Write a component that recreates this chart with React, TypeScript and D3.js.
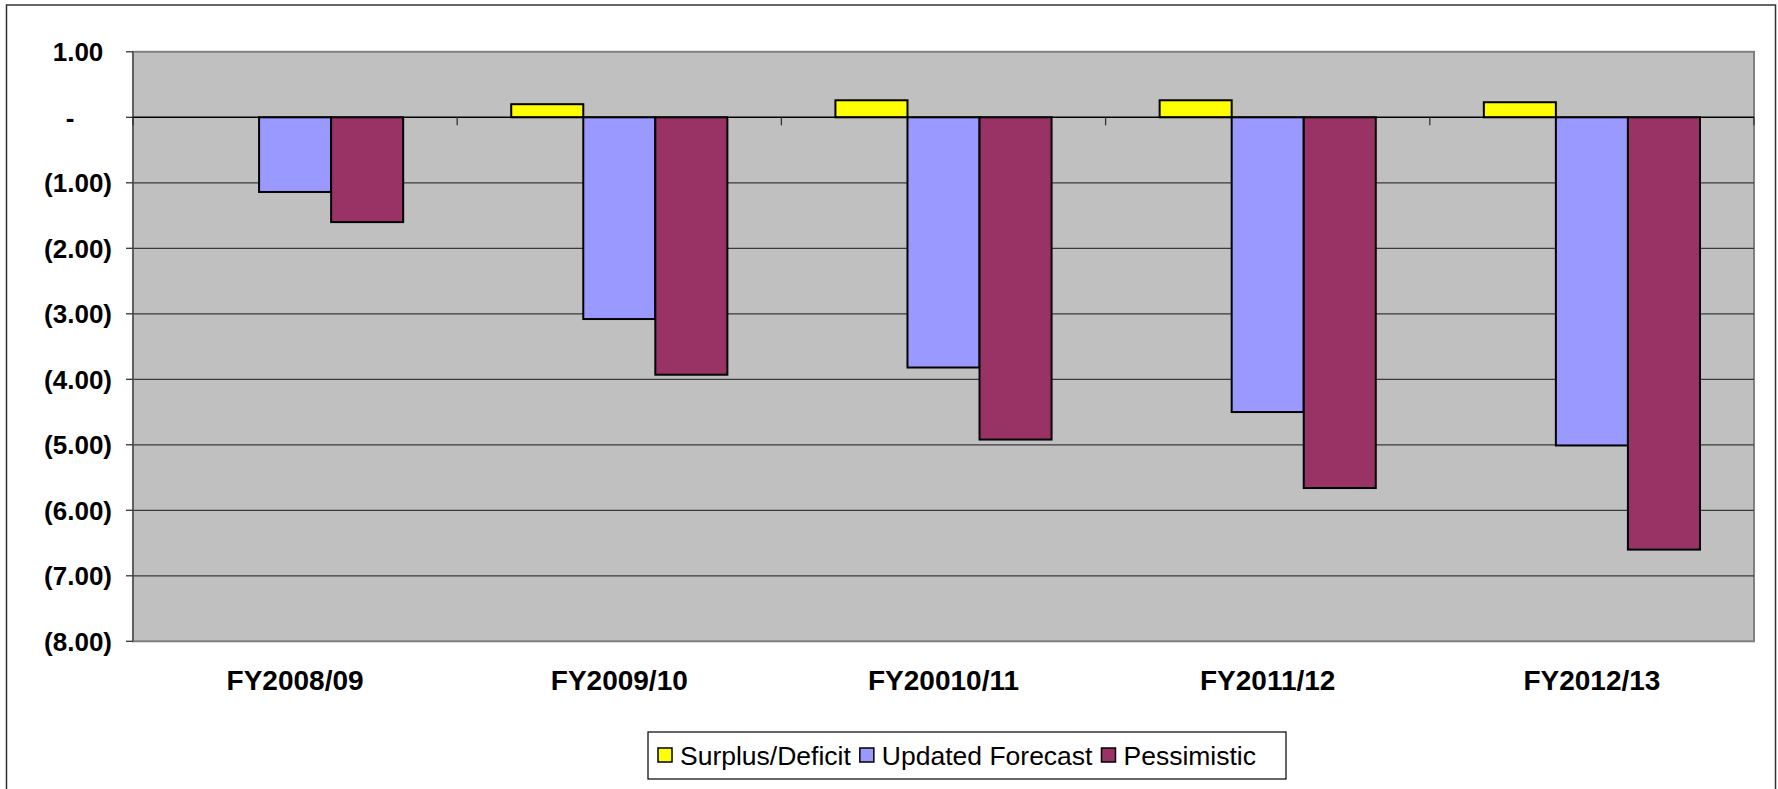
import React, { useMemo } from "react";
import * as d3 from "d3";

// Budget outlook by fiscal year (in millions)
const categories = ["FY2008/09", "FY2009/10", "FY20010/11", "FY2011/12", "FY2012/13"];
const surplusDeficit: (number | null)[] = [null, 0.2, 0.26, 0.26, 0.23];
const updatedForecast: (number | null)[] = [-1.14, -3.08, -3.82, -4.5, -5.01];
const pessimistic: (number | null)[] = [-1.6, -3.93, -4.92, -5.66, -6.6];
const seriesNames = ["Surplus/Deficit", "Updated Forecast", "Pessimistic"];
const seriesColors = ["#FFFF00", "#9999FF", "#993366"];
const yTickValues = [1, 0, -1, -2, -3, -4, -5, -6, -7, -8];

const W = 1778;
const H = 789;
const FONT = "'Liberation Sans', Arial, Helvetica, sans-serif";

const plot = { left: 133, right: 1754, top: 51.8, bottom: 641.3 };

const TICK_SIZE = 26;
const CAT_SIZE = 28;
const LEGEND_SIZE = 26.5;

function measure(text: string, font: string): number {
  const c = document.createElement("canvas").getContext("2d");
  if (!c) return text.length * 12;
  c.font = font;
  return c.measureText(text).width;
}

export default function App() {
  const seriesValues = [surplusDeficit, updatedForecast, pessimistic];

  const x0 = d3.scaleBand<string>().domain(categories).range([plot.left, plot.right]).padding(0);
  const bw = x0.bandwidth();
  // gap width 150%: each category holds 3 bars plus 1.5 bars of gap
  const barW = bw / 4.5;
  const x1 = d3
    .scaleBand<string>()
    .domain(seriesNames)
    .range([barW * 0.75, barW * 0.75 + barW * 3])
    .padding(0);
  const y = d3.scaleLinear().domain([-8, 1]).range([plot.bottom, plot.top]);

  const tickFont = `bold ${TICK_SIZE}px ${FONT}`;
  const parenW = useMemo(() => measure(")", tickFont), []);
  const zeroW = useMemo(() => measure("0", tickFont), []);
  const labelRight = 112;

  const fmt = (v: number) => {
    if (v === 0) return { text: "-", x: labelRight - parenW - 2 * zeroW };
    if (v < 0) return { text: `(${d3.format(".2f")(-v)})`, x: labelRight };
    return { text: d3.format(".2f")(v), x: labelRight - parenW };
  };

  const legendFont = `${LEGEND_SIZE}px ${FONT}`;
  const legendItems = useMemo(() => {
    let cx = 658;
    return seriesNames.map((name, i) => {
      const sq = cx;
      const tx = sq + 14 + 8;
      const tw = measure(name, legendFont);
      cx = tx + tw + 9;
      return { name, color: seriesColors[i], sq, tx };
    });
  }, []);

  return (
    <svg
      width={W}
      height={H}
      style={{ position: "absolute", left: 0, top: 0, background: "#fff" }}
      fontFamily={FONT}
    >
      {/* chart frame */}
      <rect x={6.5} y={5} width={1769} height={800} fill="#fff" stroke="#333" strokeWidth={1.5} />

      {/* plot area */}
      <rect
        x={plot.left}
        y={plot.top}
        width={plot.right - plot.left}
        height={plot.bottom - plot.top}
        fill="#C0C0C0"
        stroke="#808080"
        strokeWidth={2}
      />

      {/* gridlines */}
      {yTickValues
        .filter((v) => v !== 0 && v !== 1 && v !== -8)
        .map((v) => (
          <line
            key={`g${v}`}
            x1={plot.left}
            x2={plot.right}
            y1={y(v)}
            y2={y(v)}
            stroke="#3a3a3a"
            strokeWidth={1.3}
          />
        ))}

      {/* value axis */}
      <line x1={plot.left} x2={plot.left} y1={plot.top} y2={plot.bottom} stroke="#555" strokeWidth={1.5} />
      {yTickValues.map((v) => {
        const f = fmt(v);
        return (
          <g key={`t${v}`}>
            <line x1={plot.left - 7} x2={plot.left} y1={y(v)} y2={y(v)} stroke="#333" strokeWidth={1.3} />
            <text x={f.x} y={y(v)} dy="0.36em" textAnchor="end" fontSize={TICK_SIZE} fontWeight="bold" fill="#000">
              {f.text}
            </text>
          </g>
        );
      })}

      {/* bars */}
      {categories.map((c, ci) => (
        <g key={c}>
          {seriesNames.map((s, si) => {
            const v = seriesValues[si][ci];
            if (v === null || v === undefined) return null;
            const yTop = y(Math.max(0, v));
            const yBot = y(Math.min(0, v));
            return (
              <rect
                key={s}
                x={(x0(c) as number) + (x1(s) as number)}
                y={yTop}
                width={x1.bandwidth()}
                height={yBot - yTop}
                fill={seriesColors[si]}
                stroke="#000"
                strokeWidth={2}
              />
            );
          })}
        </g>
      ))}

      {/* category axis along zero */}
      <line x1={plot.left} x2={plot.right} y1={y(0)} y2={y(0)} stroke="#000" strokeWidth={1.5} />
      {[...categories.map((c) => x0(c) as number), plot.right].map((tx, i) => (
        <line key={`ct${i}`} x1={tx} x2={tx} y1={y(0)} y2={y(0) + 8} stroke="#333" strokeWidth={1.3} />
      ))}
      {categories.map((c) => (
        <text
          key={`cl${c}`}
          x={(x0(c) as number) + bw / 2}
          y={690}
          textAnchor="middle"
          fontSize={CAT_SIZE}
          fontWeight="bold"
          fill="#000"
        >
          {c}
        </text>
      ))}

      {/* legend */}
      <rect x={648} y={732} width={638} height={47} fill="#fff" stroke="#000" strokeWidth={1.2} />
      {legendItems.map((it) => (
        <g key={it.name}>
          <rect x={it.sq} y={748} width={14} height={14} fill={it.color} stroke="#000" strokeWidth={1.5} />
          <text x={it.tx} y={765} fontSize={LEGEND_SIZE} fill="#000">
            {it.name}
          </text>
        </g>
      ))}
    </svg>
  );
}
